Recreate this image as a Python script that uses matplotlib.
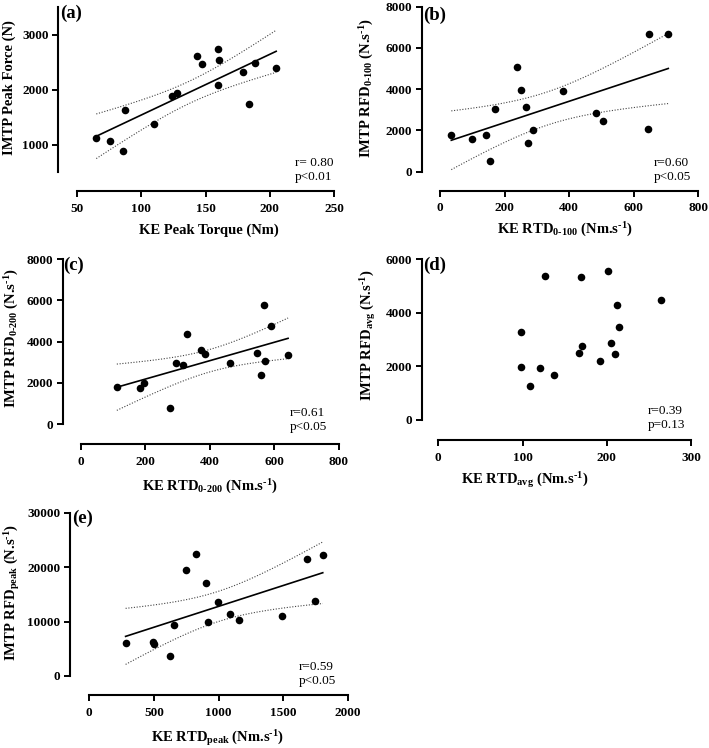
import numpy as np
import matplotlib
matplotlib.use("Agg")
import matplotlib.pyplot as plt

plt.rcParams['font.family'] = ['Liberation Serif', 'DejaVu Serif']
plt.rcParams['mathtext.fontset'] = 'custom'
plt.rcParams['mathtext.rm'] = 'Liberation Serif:bold'
plt.rcParams['mathtext.it'] = 'Liberation Serif:bold'
plt.rcParams['mathtext.bf'] = 'Liberation Serif:bold'
plt.rcParams['mathtext.default'] = 'rm'

W, H = 709, 748

# (a) KE peak torque vs IMTP peak force
a_x = [65, 76, 86, 87.5, 110, 124, 127.5, 143, 147.5, 159.5, 160.5, 160, 179.5, 184, 188.5, 205]
a_y = [1110, 1065, 885, 1620, 1380, 1885, 1935, 2610, 2460, 2735, 2535, 2080, 2315, 1740, 2490, 2390]

# (b) RTD 0-100
b_x = [35, 98, 144, 155, 169, 240, 252, 265, 273, 288, 382, 484, 506, 643, 647, 707]
b_y = [1780, 1600, 1780, 535, 3035, 5055, 3955, 3150, 1375, 2005, 3925, 2825, 2440, 2050, 6700, 6670]

# (c) RTD 0-200
c_x = [112, 185, 197, 278, 295, 318, 331, 372, 384, 462, 548, 558, 569, 573, 589, 643]
c_y = [1815, 1735, 2010, 780, 2965, 2865, 4355, 3595, 3385, 2965, 3465, 2365, 5780, 3060, 4775, 3335]

# (d) RTD avg
d_x = [98, 98, 109, 121, 127, 137, 167, 170, 171, 192, 202, 205, 210, 212.5, 215, 264]
d_y = [1990, 3285, 1280, 1940, 5390, 1670, 2490, 5340, 2765, 2215, 5575, 2890, 2450, 4280, 3485, 4480]

# (e) RTD peak
e_x = [281, 496, 498, 625, 653, 746, 826, 906, 921, 994, 1089, 1156, 1492, 1688, 1747, 1807]
e_y = [6000, 6250, 5880, 3670, 9370, 19400, 22500, 17100, 9980, 13650, 11300, 10350, 11080, 21500, 13850, 22150]

panels = [
    dict(x=a_x, y=a_y, box=(77, 7, 334, 172), xlim=(50, 250), ylim=(500, 3500),
         xt=[50, 100, 150, 200, 250], yt=[1000, 2000, 3000], off=(19, 19), fit=True,
         letter="(a)", lpos=(60, 13), stat="r= 0.80\np<0.01", spos=(295, 170),
         xl="KE Peak Torque (Nm)", xlpos=(209, 230),
         yl="IMTP Peak Force (N)", ylpos=(9, 88)),
    dict(x=b_x, y=b_y, box=(440, 6.7, 698.3, 171.7), xlim=(0, 800), ylim=(0, 8000),
         xt=[0, 200, 400, 600, 800], yt=[0, 2000, 4000, 6000, 8000], off=(18.3, 19), fit=True,
         letter="(b)", lpos=(423, 15), stat="r=0.60\np<0.05", spos=(654, 170),
         xl=r"KE RTD$_{0\text{-}100}$ (Nm.s$^{\text{-}1}$)", xlpos=(565, 230),
         yl=r"IMTP RFD$_{0\text{-}100}$ (N.s$^{\text{-}1}$)", ylpos=(367, 88)),
    dict(x=c_x, y=c_y, box=(80.7, 259.3, 338.7, 424), xlim=(0, 800), ylim=(0, 8000),
         xt=[0, 200, 400, 600, 800], yt=[0, 2000, 4000, 6000, 8000], off=(18, 20), fit=True,
         letter="(c)", lpos=(63, 265), stat="r=0.61\np<0.05", spos=(290, 420),
         xl=r"KE RTD$_{0\text{-}200}$ (Nm.s$^{\text{-}1}$)", xlpos=(210, 487),
         yl=r"IMTP RFD$_{0\text{-}200}$ (N.s$^{\text{-}1}$)", ylpos=(12, 338)),
    dict(x=d_x, y=d_y, box=(438.3, 259.3, 691, 420), xlim=(0, 300), ylim=(0, 6000),
         xt=[0, 100, 200, 300], yt=[0, 2000, 4000, 6000], off=(16.6, 20), fit=False,
         letter="(d)", lpos=(423, 265), stat="r=0.39\np=0.13", spos=(648, 418),
         xl=r"KE RTD$_{avg}$ (Nm.s$^{\text{-}1}$)", xlpos=(525, 480),
         yl=r"IMTP RFD$_{avg}$ (N.s$^{\text{-}1}$)", ylpos=(368, 335)),
    dict(x=e_x, y=e_y, box=(89.3, 512.7, 347.7, 676), xlim=(0, 2000), ylim=(0, 30000),
         xt=[0, 500, 1000, 1500, 2000], yt=[0, 10000, 20000, 30000], off=(19.3, 19), fit=True,
         letter="(e)", lpos=(72, 518), stat="r=0.59\np<0.05", spos=(299, 674),
         xl=r"KE RTD$_{peak}$ (Nm.s$^{\text{-}1}$)", xlpos=(218, 738),
         yl=r"IMTP RFD$_{peak}$ (N.s$^{\text{-}1}$)", ylpos=(12, 592)),
]

fig = plt.figure(figsize=(W / 100, H / 100), dpi=100)


def fx(px):
    return px / W


def fy(py):
    return 1 - py / H


for p in panels:
    l, t, r, b = p["box"]
    ax = fig.add_axes([fx(l), fy(b), fx(r - l), (b - t) / H])
    x = np.array(p["x"], float)
    y = np.array(p["y"], float)
    ax.scatter(x, y, s=30, color="black", zorder=3, clip_on=False, linewidths=0)

    if p["fit"]:
        n = len(x)
        slope, icpt = np.polyfit(x, y, 1)
        xs = np.linspace(x.min(), x.max(), 100)
        yh = slope * xs + icpt
        resid = y - (slope * x + icpt)
        s = np.sqrt(np.sum(resid ** 2) / (n - 2))
        sxx = np.sum((x - x.mean()) ** 2)
        tcrit = 2.145  # df = 14, 95%
        half = tcrit * s * np.sqrt(1 / n + (xs - x.mean()) ** 2 / sxx)
        ax.plot(xs, yh, color="black", lw=1.2)
        ax.plot(xs, yh + half, color="#444444", lw=0.8, ls=(0, (1, 1.5)))
        ax.plot(xs, yh - half, color="#444444", lw=0.8, ls=(0, (1, 1.5)))

    ax.set_xlim(p["xlim"])
    ax.set_ylim(p["ylim"])
    ax.set_xticks(p["xt"])
    ax.set_yticks(p["yt"])
    for side in ["top", "right"]:
        ax.spines[side].set_visible(False)
    ax.spines["left"].set_position(("outward", p["off"][0] * 0.72))
    ax.spines["bottom"].set_position(("outward", p["off"][1] * 0.72))
    for side in ["left", "bottom"]:
        ax.spines[side].set_linewidth(1.5)
    ax.tick_params(direction="out", length=4.3, width=1.4, labelsize=9.5)
    ax.tick_params(axis="x", pad=4)
    ax.tick_params(axis="y", pad=2.5)
    for lab in ax.get_xticklabels() + ax.get_yticklabels():
        lab.set_fontweight("bold")
    ax.patch.set_visible(False)

    fig.text(fx(p["lpos"][0]), fy(p["lpos"][1]), p["letter"], fontsize=13.5,
             fontweight="bold", ha="left", va="center")
    fig.text(fx(p["spos"][0]), fy(p["spos"][1]), p["stat"], fontsize=9.5,
             ha="left", va="center", linespacing=1.15)
    fig.text(fx(p["xlpos"][0]), fy(p["xlpos"][1]), p["xl"], fontsize=10.5,
             fontweight="bold", ha="center", va="center")
    fig.text(fx(p["ylpos"][0]), fy(p["ylpos"][1]), p["yl"], fontsize=10.5,
             fontweight="bold", ha="center", va="center", rotation=90)

fig.savefig("out.png", dpi=100)
